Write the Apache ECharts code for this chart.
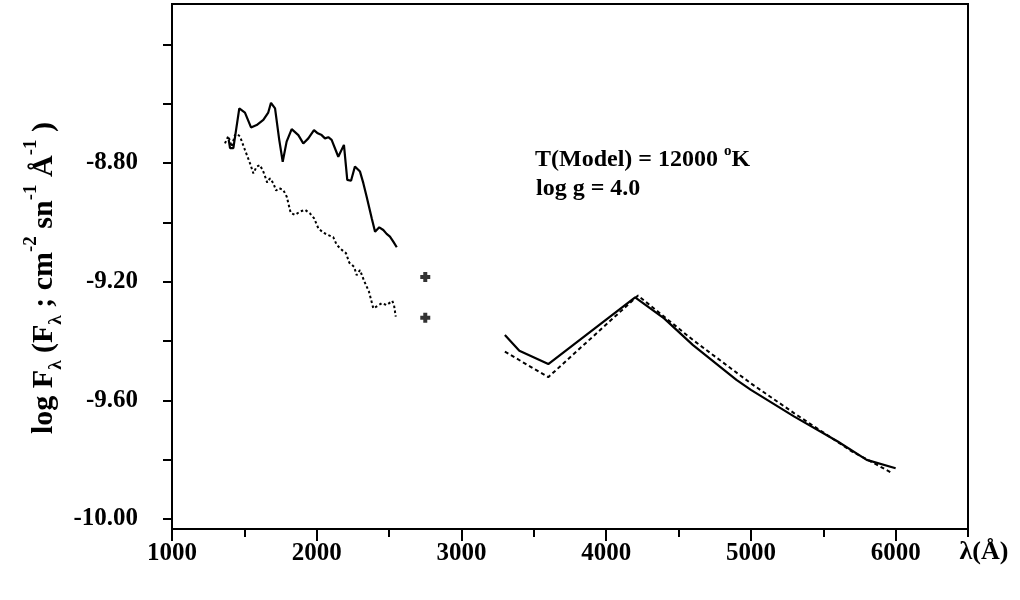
<!DOCTYPE html>
<html>
<head>
<meta charset="utf-8">
<script src="https://cdn.jsdelivr.net/npm/echarts@6/dist/echarts.min.js"></script>
<style>html,body{margin:0;padding:0;background:#fff}#c{width:1020px;height:600px}</style>
</head>
<body>
<div id="c"></div>
<script>
// ---- data ----
const solidUvWave = [1392,1401,1424,1465,1504,1546,1585,1631,1665,1684,1712,1741,1765,1792,1827,1873,1907,1942,1981,2007,2034,2057,2080,2103,2149,2188,2211,2237,2264,2299,2322,2345,2380,2403,2432,2460,2483,2506,2529,2553];
const solidUvFlux = [-8.722,-8.750,-8.750,-8.616,-8.630,-8.680,-8.672,-8.655,-8.630,-8.597,-8.616,-8.722,-8.796,-8.728,-8.686,-8.706,-8.734,-8.717,-8.689,-8.700,-8.706,-8.717,-8.713,-8.722,-8.779,-8.739,-8.857,-8.860,-8.812,-8.829,-8.868,-8.914,-8.986,-9.032,-9.017,-9.026,-9.039,-9.048,-9.065,-9.084];
const dottedUvWave = [1366,1389,1412,1435,1451,1470,1504,1539,1562,1585,1608,1631,1658,1677,1700,1719,1741,1769,1793,1820,1850,1884,1919,1953,1981,2011,2045,2080,2114,2138,2173,2202,2225,2258,2276,2299,2327,2361,2391,2419,2449,2483,2522,2534,2546];
const dottedUvFlux = [-8.734,-8.709,-8.745,-8.706,-8.702,-8.711,-8.756,-8.801,-8.835,-8.812,-8.807,-8.829,-8.866,-8.852,-8.868,-8.893,-8.885,-8.891,-8.914,-8.968,-8.975,-8.964,-8.958,-8.970,-8.986,-9.020,-9.035,-9.043,-9.050,-9.076,-9.093,-9.104,-9.136,-9.150,-9.178,-9.161,-9.197,-9.234,-9.290,-9.282,-9.273,-9.279,-9.265,-9.279,-9.318];
const solidOptWave = [3300,3400,3600,4200,4400,4600,4900,5000,5300,5600,5800,6000];
const solidOptFlux = [-9.380,-9.433,-9.478,-9.253,-9.324,-9.414,-9.531,-9.565,-9.655,-9.739,-9.801,-9.829];
const dottedOptWave = [3300,3600,4220,4600,5000,5300,5700,5850,5970];
const dottedOptFlux = [-9.436,-9.522,-9.247,-9.397,-9.543,-9.644,-9.773,-9.812,-9.844];
const plusWave = [2750,2750];
const plusFlux = [-9.184,-9.322];
const xLabelTicks = [1000,2000,3000,4000,5000,6000];
const yLabelTicks = [-10.0,-9.6,-9.2,-8.8];

const FONT = '"Liberation Serif","Times New Roman",serif';
const pair = (w, f) => w.map((x, i) => [x, f[i]]);
const black = '#000';

const chart = echarts.init(document.getElementById('c'), null, {renderer: 'canvas'});
const tickStyle = {color: black, width: 2};
const labelStyle = {fontFamily: FONT, fontSize: 25, fontWeight: 'bold', color: black};

const option = {
  animation: false,
  backgroundColor: '#fff',
  grid: {left: 172, right: 52, top: 4, bottom: 71, show: true, borderColor: black, borderWidth: 2, backgroundColor: 'transparent'},
  xAxis: [
    {type: 'value', min: 1000, max: 6500, interval: 500, position: 'bottom',
     axisLine: {show: true, onZero: false, lineStyle: {color: black, width: 2}},
     axisTick: {show: true, length: 8, lineStyle: tickStyle},
     axisLabel: {show: false}, splitLine: {show: false}},
    {type: 'value', min: 1000, max: 6500, interval: 1000, position: 'bottom',
     axisLine: {show: false, onZero: false},
     axisTick: {show: true, length: 12, lineStyle: tickStyle},
     axisLabel: Object.assign({show: true, margin: 12, showMaxLabel: false,
       formatter: v => xLabelTicks.includes(Math.round(v)) ? String(Math.round(v)) : ''}, labelStyle),
     splitLine: {show: false},
     name: 'λ(Å)', nameLocation: 'end', nameGap: 16,
     nameTextStyle: Object.assign({align: 'center', verticalAlign: 'top', padding: [10, 0, 0, 0]}, labelStyle, {fontSize: 26})}
  ],
  yAxis: [
    {type: 'value', min: -10.034, max: -8.264, splitNumber: 9, position: 'left',
     axisLine: {show: true, onZero: false, lineStyle: {color: black, width: 2}},
     axisTick: {show: true, length: 9, lineStyle: tickStyle},
     axisLabel: Object.assign({show: true, margin: 34, showMaxLabel: false, showMinLabel: false,
       formatter: v => yLabelTicks.some(t => Math.abs(t - v) < 1e-6) ? v.toFixed(2) : ''}, labelStyle),
     splitLine: {show: false}}
  ],
  series: [
    {type: 'line', name: 'solid UV', data: pair(solidUvWave, solidUvFlux), showSymbol: false, symbol: 'none',
     lineStyle: {color: black, width: 2.2, type: 'solid'}, z: 3},
    {type: 'line', name: 'dotted UV', data: pair(dottedUvWave, dottedUvFlux), showSymbol: false, symbol: 'none',
     lineStyle: {color: black, width: 2, type: [2.5, 2.5]}, z: 3},
    {type: 'line', name: 'solid optical', data: pair(solidOptWave, solidOptFlux), showSymbol: false, symbol: 'none',
     lineStyle: {color: black, width: 2.2, type: 'solid'}, z: 3},
    {type: 'line', name: 'dotted optical', data: pair(dottedOptWave, dottedOptFlux), showSymbol: false, symbol: 'none',
     lineStyle: {color: black, width: 2, type: [4, 3]}, z: 3},
    {type: 'scatter', name: 'points', data: pair(plusWave, plusFlux),
     symbol: 'path://M3 0H7V3H10V7H7V10H3V7H0V3H3Z', symbolSize: 10,
     itemStyle: {color: black}, z: 4}
  ],
  graphic: [
    {type: 'text', x: 44, y: 278, rotation: Math.PI / 2, z: 10,
     style: {
       text: 'log F{sub|λ} (F{sub|λ} ; cm{sup|-2} sn{sup|-1} Å{sup|-1} )',
       fontFamily: FONT, fontSize: 30, fontWeight: 'bold', fill: black,
       align: 'center', verticalAlign: 'middle',
       rich: {
         sub: {fontFamily: FONT, fontSize: 19, fontWeight: 'bold', fill: black, verticalAlign: 'bottom', lineHeight: 19},
         sup: {fontFamily: FONT, fontSize: 19, fontWeight: 'bold', fill: black, verticalAlign: 'top', lineHeight: 19}
       },
       lineHeight: 44
     }},
    {type: 'text', x: 535, y: 160, z: 10,
     style: {
       text: 'T(Model) = 12000 {sup|o}K',
       fontFamily: FONT, fontSize: 24, fontWeight: 'bold', fill: black,
       align: 'left', verticalAlign: 'middle', lineHeight: 32,
       rich: {sup: {fontFamily: FONT, fontSize: 15, fontWeight: 'bold', fill: black, verticalAlign: 'top', lineHeight: 15}}
     }},
    {type: 'text', x: 536, y: 189, z: 10,
     style: {
       text: 'log g = 4.0',
       fontFamily: FONT, fontSize: 24, fontWeight: 'bold', fill: black,
       align: 'left', verticalAlign: 'middle'
     }}
  ]
};
chart.setOption(option);
</script>
</body>
</html>
